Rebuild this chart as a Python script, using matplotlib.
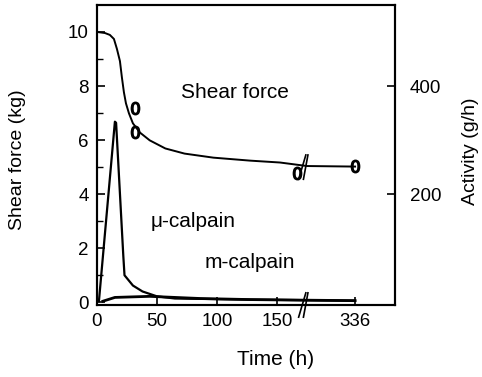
import numpy as np
import matplotlib
matplotlib.use("Agg")
import matplotlib.pyplot as plt

plt.rcParams['font.family'] = ['Liberation Sans', 'DejaVu Sans']

# --- DATA ---
shear_t = [0, 6.7, 10.8, 14.2, 16.7, 19.2, 20.8, 22.5, 24.2, 26.7, 30, 35.8,
           44, 57, 73, 97, 127.5, 152.5, 175, 336]
shear_kg = [10.0, 9.96, 9.89, 9.74, 9.37, 8.92, 8.33, 7.77, 7.36, 6.99, 6.62,
            6.28, 5.99, 5.69, 5.50, 5.35, 5.24, 5.17, 5.04, 5.02]

marker_t = [32, 32, 167, 336]
marker_kg = [7.2, 6.3, 4.8, 5.05]

mu_t = [1.7, 15, 16, 19, 22, 23, 30, 38, 50, 65, 128, 170, 336]
mu_act = [2, 334, 332, 209, 86, 50, 31, 20, 11, 7, 5, 4, 3]

m_t = [5, 15, 44, 86, 128, 170, 336]
m_act = [2, 9, 11, 7, 5, 4, 3]

x_ticks = [0, 50, 100, 150, 336]
break_t = 175

# --- BROKEN TIME SCALE ---
slope = 40 / 161


def forward(t):
    t = np.asarray(t, dtype=float)
    return np.where(t <= break_t, t, break_t + (t - break_t) * slope)


def inverse(u):
    u = np.asarray(u, dtype=float)
    return np.where(u <= break_t, u, break_t + (u - break_t) / slope)


fig = plt.figure(figsize=(4.82, 3.77), dpi=100)
ax = fig.add_axes([0.201, 0.191, 0.618, 0.796])
ax.set_xscale('function', functions=(forward, inverse))
ax.set_xlim(0, 469)
ax.set_ylim(-0.1, 11.0)

ax.plot(shear_t, shear_kg, color='black', lw=1.4)
ax.plot(marker_t, marker_kg, ls='none', marker='$0$', ms=9,
        color='black')

ax2 = ax.twinx()
ax2.set_ylim(-5, 550)
ax2.plot(mu_t, mu_act, color='black', lw=1.6)
ax2.plot(m_t, m_act, color='black', lw=2.0)

# break marks
for yv in (5.0, -0.1):
    for dx in (-4, 0):
        ax.plot([break_t + dx - 3, break_t + dx + 3],
                [yv - 0.45, yv + 0.45], color='black', lw=1.2,
                clip_on=False)

ax.set_xticks(x_ticks)
ax.set_xticklabels([str(v) for v in x_ticks])
ax.set_yticks([0, 2, 4, 6, 8, 10])
ax.set_yticks([1, 3, 5, 7, 9], minor=True)
ax.tick_params(direction='in', length=6, width=1.2, labelsize=13.5, pad=6)
ax.tick_params(which='minor', direction='in', length=4, width=1)
ax.tick_params(axis='x', which='minor', length=0)
ax2.set_yticks([200, 400])
ax2.tick_params(direction='in', length=6, width=1.2, labelsize=13.5, pad=11)

for a in (ax, ax2):
    for s in a.spines.values():
        s.set_linewidth(1.5)

ax.set_ylabel('Shear force (kg)', fontsize=14)
ax.yaxis.set_label_coords(-0.237, 0.483)
ax2.set_ylabel('Activity (g/h)', fontsize=14)
ax2.yaxis.set_label_coords(1.225, 0.513)
ax.set_xlabel('Time (h)', fontsize=15)
ax.xaxis.set_label_coords(0.6, -0.15)

ax.text(0.463, 0.707, 'Shear force', transform=ax.transAxes, fontsize=15,
        ha='center', va='center')
ax.text(0.322, 0.277, '\u03bc-calpain', transform=ax.transAxes, fontsize=15,
        ha='center', va='center')
ax.text(0.513, 0.14, 'm-calpain', transform=ax.transAxes, fontsize=15,
        ha='center', va='center')

fig.savefig('out.png', dpi=100)
